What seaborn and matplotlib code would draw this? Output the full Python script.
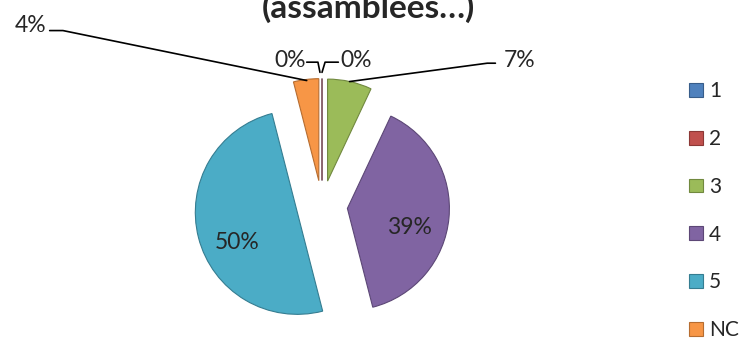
import matplotlib
matplotlib.use("Agg")
import matplotlib.pyplot as plt
import seaborn as sns
from matplotlib.patches import Patch

# Data
categories = ["1", "2", "3", "4", "5", "NC"]
values = [0, 0, 7, 39, 50, 4]
pct_labels = ["0%", "0%", "7%", "39%", "50%", "4%"]
colors = ["#4F81BD", "#C0504D", "#9BBB59", "#8064A2", "#4BACC6", "#F79646"]
edge_colors = ["#385D8A", "#8C3836", "#71893F", "#5C4776", "#357D91", "#B66D31"]
title_text = "(assamblees\u2026)"

sns.set_theme(style="white")
plt.rcParams["font.family"] = ["Lato", "DejaVu Sans"]

fig = plt.figure(figsize=(7.5, 3.41), dpi=100)
ax = fig.add_axes([0, 0, 1, 1])

wedges, _ = ax.pie(values, colors=sns.color_palette(colors), startangle=90,
                   counterclock=False, radius=1.0, explode=[0.25] * len(values),
                   wedgeprops=dict(linewidth=0.8))
for w, ec in zip(wedges, edge_colors):
    w.set_edgecolor(ec)

ax.set_xlim(-3.157, 4.196)
ax.set_ylim(-1.3235, 2.0196)
ax.set_aspect("auto")
ax.axis("off")

# inside labels
ax.text(0.86, -0.21, pct_labels[3], fontsize=16.5, ha="center", va="center")
ax.text(-0.83, -0.36, pct_labels[4], fontsize=16.5, ha="center", va="center")

# outside labels with leader lines
lc = dict(color="black", lw=1.2)
ax.text(1.94, 1.43, pct_labels[2], fontsize=16.5, ha="center", va="center")
ax.plot([1.70, 1.62, 0.27], [1.40, 1.40, 1.22], **lc)
ax.text(-2.86, 1.77, pct_labels[5], fontsize=16.5, ha="center", va="center")
ax.plot([-2.67, -2.54, -0.15], [1.72, 1.72, 1.23], **lc)
ax.text(-0.31, 1.43, pct_labels[0], fontsize=16.5, ha="center", va="center")
ax.plot([-0.15, -0.04, -0.02], [1.41, 1.41, 1.31], **lc)
ax.text(0.33, 1.43, pct_labels[1], fontsize=16.5, ha="center", va="center")
ax.plot([0.16, 0.03, 0.0], [1.41, 1.41, 1.31], **lc)

# title (top cut off, as in the source image)
ax.text(0.45, 1.84, title_text, fontsize=24, fontweight="bold",
        ha="center", va="baseline")

handles = [Patch(facecolor=c, edgecolor=ec, linewidth=0.8)
           for c, ec in zip(colors, edge_colors)]
fig.legend(handles, categories, loc="upper left",
           bbox_to_anchor=(679 / 750, 1 - 71 / 341), frameon=False,
           fontsize=15, handlelength=0.64, handleheight=0.64,
           handletextpad=0.3, labelspacing=1.33, borderpad=0)

fig.savefig("out.png", dpi=100)
